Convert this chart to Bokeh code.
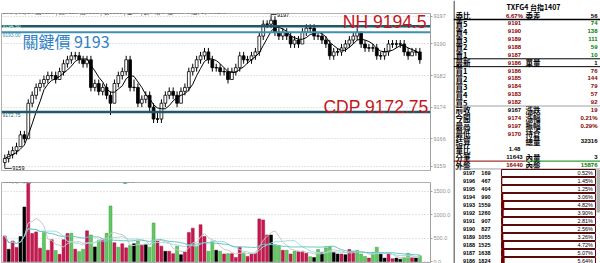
import pandas as pd
from bokeh.plotting import figure
from bokeh.models import Range1d, Span, Label, FixedTicker, ColumnDataSource, NumeralTickFormatter
from bokeh.layouts import row, column
from bokeh.core.properties import value
from bokeh.embed import file_html
from bokeh.resources import INLINE

# ---------------- data ----------------
opens = [9160,9161,9162,9163,9164,9167,9166,9175,9177,9179,9180,9181,9182,9182,9181,9183,9185,9186,9187,9187,
         9186,9185,9186,9179,9180,9178,9179,9177,9175,9180,9182,9183,9186,9179,9179,9175,9176,9177,9174,9171,
         9171,9175,9177,9178,9177,9175,9178,9179,9183,9184,9186,9187,9188,9186,9184,9184,9183,9183,9181,9183,
         9184,9187,9186,9186,9187,9188,9192,9195,9195,9196,9193,9192,9193,9192,9190,9191,9190,9193,9194,9194,
         9192,9192,9191,9190,9187,9188,9188,9189,9190,9191,9192,9193,9190,9189,9189,9189,9187,9187,9188,9190,
         9190,9190,9190,9188,9187,9188,9188]
highs = [9162,9163,9164,9165,9168,9168,9176,9178,9180,9181,9182,9183,9183,9183,9184,9186,9187,9188,9188,9188,
         9187,9187,9187,9181,9181,9180,9180,9178,9181,9183,9184,9187,9187,9181,9180,9177,9178,9178,9175,9173,
         9176,9178,9179,9179,9178,9179,9180,9184,9185,9187,9188,9189,9189,9187,9185,9185,9184,9184,9184,9185,
         9188,9188,9187,9188,9189,9193,9196,9196,9197,9197,9194,9194,9194,9193,9192,9192,9194,9195,9195,9195,
         9193,9193,9192,9191,9189,9189,9190,9191,9192,9193,9194,9193,9191,9190,9190,9190,9188,9189,9191,9191,
         9191,9191,9191,9189,9189,9189,9189]
lows = [9159,9160,9161,9162,9164,9165,9166,9174,9176,9178,9179,9180,9181,9180,9181,9182,9184,9185,9186,9185,
        9184,9184,9178,9178,9177,9177,9176,9172,9175,9179,9181,9182,9178,9178,9174,9174,9175,9173,9170,9170,
        9170,9174,9176,9176,9174,9175,9177,9178,9182,9183,9185,9186,9185,9183,9183,9182,9182,9180,9181,9182,
        9183,9185,9185,9185,9186,9187,9191,9194,9194,9192,9191,9191,9191,9189,9189,9189,9190,9192,9193,9191,
        9191,9190,9189,9186,9186,9187,9187,9188,9189,9190,9191,9189,9188,9188,9188,9186,9186,9186,9187,9189,
        9189,9189,9187,9186,9187,9187,9185]
closes = [9161,9162,9163,9164,9167,9166,9175,9177,9179,9180,9181,9182,9182,9181,9183,9185,9186,9187,9187,9186,
          9185,9186,9179,9180,9178,9179,9177,9175,9180,9182,9183,9186,9179,9179,9175,9176,9177,9174,9171,9171,
          9175,9177,9178,9177,9175,9178,9179,9183,9184,9186,9187,9188,9186,9184,9184,9183,9183,9181,9183,9184,
          9187,9186,9186,9187,9188,9192,9195,9195,9196,9193,9192,9193,9192,9190,9191,9190,9193,9194,9194,9192,
          9192,9191,9190,9187,9188,9188,9189,9190,9191,9192,9193,9190,9189,9189,9189,9187,9187,9188,9190,9190,
          9190,9190,9188,9187,9188,9188,9186]
volumes = [543,260,435,300,530,1160,1667,594,630,283,616,240,464,232,152,464,594,601,261,210,
           261,652,565,311,456,456,601,1181,399,304,377,290,348,377,435,348,362,304,819,435,
           326,217,217,167,326,145,203,616,710,326,783,530,217,435,240,217,160,167,167,87,
           304,181,109,160,174,906,884,565,565,341,341,239,239,159,217,217,217,174,101,87,
           254,196,290,319,196,159,159,145,254,217,239,159,109,72,196,304,159,72,174,58,
           72,50,87,174,87,72,123]
vol_dir = list("RKRRKKRRRRGRRGRRRGRGGRGKGRGGRGRRGKGRKGGRRKRRGKRRRGRRGGK"
               "GRGRRRGRRRRRRKGGRGRGRRRGKGKGGKKRKRRGGGRGGKKRRKKGGRKG")

key_levels = [9194.5, 9193.0, 9172.75]
key_names = ["NH 9194.5", "關鍵價 9193", "CDP 9172.75"]
key_tags = ["9194.50", "9193.00", "9172.75"]

price_ticks = [9197, 9190, 9182, 9174, 9166, 9159]
vol_ticks = [0, 500, 1000, 1500]
cursor_price = 9182

ob_title = "TXFG4 台指1407"
ob_lbl1 = ["委比","賣5","賣4","賣3","賣2","賣1","最新","買1","買2","買3","買4","買5",
           "前收","今開","最高","最低","結算","量比","分筆","外盤"]
ob_val1 = ["6.67%","9191","9190","9189","9188","9187","9186","9186","9185","9184","9183","9182",
           "9167","9174","9197","9170","","1.48","11643","16440"]
ob_lbl2 = ["委差","","","","","","單量","","","","","","漲跌","漲幅","振幅","持倉","總量","","內量","內盤"]
ob_val2 = ["56","74","138","111","59","10","1","76","144","79","57","92",
           "19","0.21%","0.29%","","32316","","3","15876"]

dist_price = [9197,9196,9195,9194,9193,9192,9191,9190,9189,9188,9187,9186]
dist_vol = [169,467,404,990,1559,1260,907,827,1055,1525,1638,1824]
dist_pct = [0.52,1.45,1.25,3.06,4.82,3.90,2.81,2.56,3.26,4.72,5.07,5.64]

# ---------------- styles ----------------
RED = "#c4161c"
BLUE = "#2e7fc4"
TEAL_D = "#1f5868"
TEAL_L = "#3f8fb2"
MAROON = "#8b0000"
GREEN = "#008000"
VRED = "#c8194f"
VGREEN = "#62c962"
CJK = "Noto Sans CJK TC"
NUM = "Liberation Sans"

XPX, X0PX = 3.934, 4.3          # px per bar, px of bar 0
FL, FR = 1, 432                 # price frame left/right px
PPX, PREF_Y, PREF = 3.95, 25.7, 9194.5
PTOP, PBOT = 13, 170

N = len(closes)
idx = list(range(N))
x_range = Range1d((FL - X0PX) / XPX, (FR - X0PX) / XPX)
y_range = Range1d(PREF - (PBOT - PREF_Y) / PPX, PREF + (PREF_Y - PTOP) / PPX)

# ---------------- price figure ----------------
p = figure(width=453, height=178, x_range=x_range, y_range=y_range,
           output_backend="svg", toolbar_location=None, y_axis_location="right",
           x_axis_location=None, min_border_left=FL, min_border_right=453 - FR,
           min_border_top=PTOP, min_border_bottom=178 - PBOT)
p.outline_line_color = "#b0b0b0"
p.xgrid.visible = False
p.ygrid.grid_line_color = "#c8c8c8"
p.ygrid.grid_line_dash = "1 2"
ax = p.yaxis[0]
ax.ticker = FixedTicker(ticks=price_ticks)
ax.major_label_text_font_size = "5.5px"
ax.major_label_text_color = "#909090"
ax.axis_line_color = "#a0a0a0"
ax.major_tick_line_color = "#a0a0a0"
ax.major_tick_out = 2
ax.major_tick_in = 0
ax.minor_tick_line_color = None
ax.major_label_standoff = 1

body_top = [max(o, c) for o, c in zip(opens, closes)]
body_bot = [min(o, c) for o, c in zip(opens, closes)]
fills = ["black" if c < o else "white" for o, c in zip(opens, closes)]
src = ColumnDataSource(dict(i=idx, h=highs, l=lows, top=body_top, bot=body_bot, fill=fills))
p.segment(x0="i", y0="h", x1="i", y1="l", source=src, line_color="black", line_width=1)
p.vbar(x="i", width=0.72, top="top", bottom="bot", fill_color="fill", line_color="black",
       line_width=0.8, source=src)
flat = [i for i in idx if opens[i] == closes[i]]
p.segment(x0=[i - 0.36 for i in flat], x1=[i + 0.36 for i in flat],
          y0=[closes[i] for i in flat], y1=[closes[i] for i in flat], line_color="black", line_width=1)

ma5 = pd.Series(closes).rolling(5, min_periods=1).mean()
p.line(idx, ma5, line_color="black", line_width=1)

# high / low markers
imax = max(idx, key=lambda i: highs[i]); imin = min(idx, key=lambda i: lows[i])
hv, lv = highs[imax], lows[imin]
p.line([imax, imax, imax + 1.4], [hv, hv + 0.45, hv + 0.45], line_color="black", line_width=0.8)
p.text([imax + 1.5], [hv + 0.45], text=[str(hv)], text_font_size="5.5px", text_baseline="middle",
       text_font=value(NUM), text_color="black")
p.line([imin, imin, imin + 1.8], [lv, lv - 0.5, lv - 0.5], line_color="black", line_width=0.8)
p.text([imin + 1.9], [lv - 0.5], text=[str(lv)], text_font_size="5.5px", text_baseline="middle",
       text_font=value(NUM), text_color="black")

# key level lines
for lvl, col, w in zip(key_levels, [TEAL_D, TEAL_L, TEAL_D], [2.5, 2, 2.5]):
    p.add_layout(Span(location=lvl, dimension="width", line_color=col, line_width=w))

# big texts
p.add_layout(Label(x=(428 - X0PX) / XPX, y=key_levels[0], text=key_names[0], text_align="right",
                   text_baseline="alphabetic", y_offset=4, text_font=NUM, text_font_size="17.5px",
                   text_color=RED))
p.add_layout(Label(x=(22 - X0PX) / XPX, y=key_levels[1], text=key_names[1], text_align="left",
                   text_baseline="middle", y_offset=-8.5, text_font=CJK, text_font_size="16px",
                   text_color=BLUE))
p.add_layout(Label(x=(430 - X0PX) / XPX, y=key_levels[2], text=key_names[2], text_align="right",
                   text_baseline="alphabetic", y_offset=5, text_font=NUM, text_font_size="17.5px",
                   text_color=RED))
# small level tags at left
for lvl, tag, col, off in zip(key_levels, key_tags, ["#dfe", TEAL_L, TEAL_D], [0, -2.5, -2.5]):
    p.add_layout(Label(x=(2 - X0PX) / XPX, y=lvl, text=tag, text_align="left", text_baseline="middle",
                       y_offset=off, text_font=NUM, text_font_size="5px", text_color=col))

fh = PBOT - PTOP
fw = FR - FL
# header
p.add_layout(Label(x=1, y=fh + 9, x_units="screen", y_units="screen",
                   text=f"台指1407 MA(5,0,0,0,0,0) MA1:{ma5.iloc[-1]:.2f} ↓", text_font=CJK,
                   text_font_size="6px", text_baseline="middle", text_color="#202020"))
p.add_layout(Label(x=1, y=fh + 2.5, x_units="screen", y_units="screen",
                   text=f"2014/06/24 開{opens[-1]+1} | 高{highs[-1]} 低{closes[-1]} | 收{closes[-1]} | 量50 | 倉0 增:0 幅0.03% 漲(-2)-0.02%",
                   text_font=CJK, text_font_size="6px", text_baseline="middle", text_color="#202020"))
# date strip
p.add_layout(Label(x=1, y=-4, x_units="screen", y_units="screen", text="2014/06/23",
                   text_font=NUM, text_font_size="5px", text_baseline="middle", text_color="#a0a0a0"))
p.add_layout(Label(x=(242 - X0PX) / XPX, y=-4, y_units="screen", text="06/24 09:40",
                   text_font=NUM, text_font_size="5.5px", text_baseline="middle", text_color="#205050",
                   background_fill_color="#3fe0e0"))
# cursor price tag on the right axis
p.add_layout(Label(x=fw + 1, y=cursor_price, x_units="screen", text=str(cursor_price),
                   text_font=NUM, text_font_size="5.5px", text_baseline="middle", text_color="#205050",
                   background_fill_color="#3fe0e0"))

# ---------------- volume figure ----------------
VPX = 23.5 / 500
VZERO, VTOP, VBOT = 261, 182, 262
v = figure(width=453, height=85, x_range=x_range,
           y_range=Range1d(-(VBOT - VZERO) / VPX, (VZERO - VTOP) / VPX),
           output_backend="svg", toolbar_location=None, y_axis_location="right",
           x_axis_location=None, min_border_left=FL, min_border_right=453 - FR,
           min_border_top=VTOP - 178, min_border_bottom=263 - VBOT)
v.outline_line_color = "#b0b0b0"
v.xgrid.visible = False
v.ygrid.grid_line_color = "#c8c8c8"
v.ygrid.grid_line_dash = "1 2"
vax = v.yaxis[0]
vax.ticker = FixedTicker(ticks=vol_ticks)
vax.formatter = NumeralTickFormatter(format="0.0")
vax.major_label_text_font_size = "5.5px"
vax.major_label_text_color = "#909090"
vax.axis_line_color = "#a0a0a0"
vax.major_tick_line_color = "#a0a0a0"
vax.major_tick_out = 2
vax.major_tick_in = 0
vax.minor_tick_line_color = None
vax.major_label_standoff = 1

cmap = {"R": VRED, "G": VGREEN, "K": "black"}
lmap = {"R": "#a01040", "G": "#3a9a3a", "K": "black"}
vsrc = ColumnDataSource(dict(i=idx, v=volumes, c=[cmap[d] for d in vol_dir], lc=[lmap[d] for d in vol_dir]))
v.vbar(x="i", width=0.75, top="v", bottom=0, fill_color="c", line_color="lc", line_width=0.5, source=vsrc)
vs = pd.Series(volumes)
m5 = vs.rolling(5, min_periods=1).mean()
m10 = vs.rolling(10, min_periods=1).mean()
m20 = vs.rolling(20, min_periods=1).mean()
v.line(idx, m5, line_color="#c8c8c8", line_width=1)
v.line(idx, m10, line_color="#9fdede", line_width=1)
v.line(idx, m20, line_color="#6cc4c4", line_width=1)
vfh = VBOT - VTOP
hdr = [("VOL(5,10,20)", "#202020", 1), (f"MA5:{m5.iloc[-1]:.2f}", "#a0a0a0", 37),
       (f"MA10:{m10.iloc[-1]:.2f}", "#50b0b0", 63), (f"MA20:{m20.iloc[-1]:.2f}", "#50b0b0", 89),
       ("量:50", "#208080", 121)]
for tx, c, xx in hdr:
    v.add_layout(Label(x=xx, y=vfh + 2, x_units="screen", y_units="screen", text=tx, text_font=CJK,
                       text_font_size="5px", text_baseline="middle", text_color=c))

# ---------------- order-book panel ----------------
t = figure(width=147, height=263, x_range=Range1d(0, 147), y_range=Range1d(263, 0),
           output_backend="svg", toolbar_location=None, x_axis_location=None, y_axis_location=None,
           min_border=0)
t.outline_line_color = None
t.grid.visible = False

ROW0, RSTEP = 15.0, 7.87
ry = [ROW0 + RSTEP * k for k in range(len(ob_lbl1))]
val1_col = [MAROON]*12 + ["black", MAROON, MAROON, MAROON, "black", "black", "black", MAROON]
val2_col = ["black"] + [GREEN]*5 + ["black"] + [MAROON]*5 + [MAROON, MAROON, MAROON, "black", "black", "black", "black", GREEN]

t.segment(x0=[0.5], y0=[0], x1=[0.5], y1=[263], line_color="black", line_width=1)
t.text([80], [6], text=[ob_title], text_font=value(CJK), text_font_style="bold", text_font_size="7px",
       text_align="center", text_baseline="middle", text_color="black")
t.text([2]*len(ry), ry, text=ob_lbl1, text_font=value(CJK), text_font_style="bold", text_font_size="7.5px",
       text_baseline="middle", text_color="black")
t.text([72]*len(ry), ry, text=ob_lbl2, text_font=value(CJK), text_font_style="bold", text_font_size="7.5px",
       text_baseline="middle", text_color="black")
t.text([61]*len(ry), ry, text=ob_val1, text_font=value(NUM), text_font_style="bold", text_font_size="6px",
       text_align="center", text_baseline="middle", text_color=val1_col)
t.text([144]*len(ry), ry, text=ob_val2, text_font=value(NUM), text_font_style="bold", text_font_size="6px",
       text_align="right", text_baseline="middle", text_color=val2_col)
sep = lambda k: ROW0 + RSTEP * k
t.segment(x0=[0, 0, 0, 0], x1=[147, 147, 147, 147],
          y0=[sep(0.5), sep(5.5), sep(6.5), sep(11.5)], y1=[sep(0.5), sep(5.5), sep(6.5), sep(11.5)],
          line_color=["black", "black", "black", "#a0a0a0"], line_width=[1.5, 1, 1, 1])
t.segment(x0=[0, 72], x1=[72, 147], y0=[sep(18.5)]*2, y1=[sep(18.5)]*2, line_color=[MAROON, GREEN], line_width=1)
t.segment(x0=[0], x1=[147], y0=[sep(19.5)], y1=[sep(19.5)], line_color="#a0a0a0", line_width=1)

D0, DSTEP = 172.5, 8.0
dy = [D0 + DSTEP * j for j in range(len(dist_price))]
t.text([15.5]*len(dy), dy, text=[str(x) for x in dist_price], text_font=value(NUM), text_font_style="bold",
       text_font_size="5.5px", text_align="center", text_baseline="middle", text_color="black")
t.text([37]*len(dy), dy, text=[str(x) for x in dist_vol], text_font=value(NUM), text_font_style="bold",
       text_font_size="5.5px", text_align="right", text_baseline="middle", text_color="black")
BX0, BX1 = 48, 142
t.quad(left=[BX0]*len(dy), right=[BX1]*len(dy), top=[y - 3.5 for y in dy], bottom=[y + 3.5 for y in dy],
       fill_color="white", line_color="#5a0a0a", line_width=1)
t.quad(left=[BX0]*len(dy), right=[BX0 + p_ / 100 * (BX1 - BX0) * 0.6 for p_ in dist_pct],
       top=[y - 3.5 for y in dy], bottom=[y + 3.5 for y in dy], fill_color="#7a0000", line_color=None)
t.text([139.5]*len(dy), dy, text=[f"{x:.2f}%" for x in dist_pct], text_font=value(NUM),
       text_font_size="5.5px", text_align="right", text_baseline="middle", text_color="black")
t.quad(left=[143], right=[147], top=[169], bottom=[212], fill_color="#b4b4b4", line_color=None)

layout = row(column(p, v), t)
open("out.html", "w").write(file_html(layout, INLINE))
